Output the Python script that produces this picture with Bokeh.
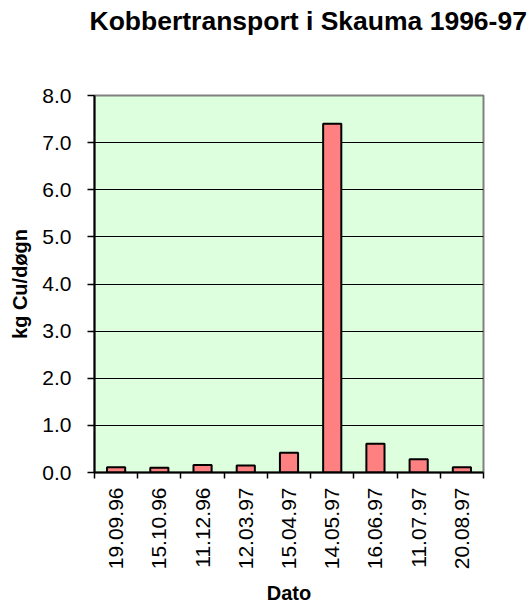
import math
from bokeh.plotting import figure
from bokeh.models import FixedTicker, Range1d, NumeralTickFormatter, ColumnDataSource, Title
from bokeh.embed import file_html
from bokeh.resources import INLINE

# ---- data ----
dates = ["19.09.96", "15.10.96", "11.12.96", "12.03.97", "15.04.97",
         "14.05.97", "16.06.97", "11.07.97", "20.08.97"]
kg_cu = [0.11, 0.10, 0.16, 0.15, 0.42, 7.40, 0.61, 0.28, 0.11]
y_ticks = [0, 1, 2, 3, 4, 5, 6, 7, 8]

title_text = "Kobbertransport i Skauma 1996-97"
x_label = "Dato"
y_label = "kg Cu/døgn"

FONT = "Liberation Sans"

centers = [i + 0.5 for i in range(len(dates))]
bounds = list(range(len(dates) + 1))
src = ColumnDataSource(dict(x=centers, top=kg_cu, date=dates))

p = figure(frame_width=389, frame_height=377,
           x_range=Range1d(0, len(dates)), y_range=Range1d(y_ticks[0], y_ticks[-1]),
           output_backend="svg", toolbar_location=None,
           min_border_left=94, min_border_right=47,
           min_border_top=95, min_border_bottom=134)

p.background_fill_color = "#DDFFDD"
p.border_fill_color = "white"
p.outline_line_color = "#808080"
p.outline_line_width = 2

p.vbar(x="x", top="top", bottom=0, width=0.42, source=src,
       fill_color="#FF8080", line_color="black", line_width=2)

# spacer (nearest to frame) then the real title on top of it
p.add_layout(Title(text=" ", text_font_size="10px", standoff=47), "above")
p.add_layout(Title(text=title_text, text_font=FONT, text_font_size="26.5px",
                   text_font_style="bold", text_color="black",
                   align="left", offset=-5, standoff=0), "above")

# x axis
xa = p.xaxis[0]
xa.ticker = FixedTicker(ticks=centers, minor_ticks=bounds)
xa.major_label_overrides = {c: d for c, d in zip(centers, dates)}
xa.major_label_orientation = math.pi / 2
xa.major_tick_line_color = None
xa.major_tick_out = 0
xa.major_tick_in = 0
xa.minor_tick_out = 6
xa.minor_tick_in = 0
xa.minor_tick_line_color = "black"
xa.minor_tick_line_width = 1.5
xa.major_label_standoff = 9
xa.major_label_text_font = FONT
xa.major_label_text_font_size = "21px"
xa.major_label_text_color = "black"
xa.axis_line_color = "black"
xa.axis_line_width = 2
xa.axis_label = x_label
xa.axis_label_text_font = FONT
xa.axis_label_text_font_size = "20px"
xa.axis_label_text_font_style = "bold"
xa.axis_label_text_color = "black"
xa.axis_label_standoff = 10

# y axis
ya = p.yaxis[0]
ya.ticker = FixedTicker(ticks=y_ticks, minor_ticks=[])
ya.formatter = NumeralTickFormatter(format="0.0")
ya.major_tick_out = 7
ya.major_tick_in = 0
ya.major_tick_line_color = "black"
ya.major_tick_line_width = 1.5
ya.minor_tick_line_color = None
ya.major_label_standoff = 16
ya.major_label_text_font = FONT
ya.major_label_text_font_size = "21px"
ya.major_label_text_color = "black"
ya.axis_line_color = "black"
ya.axis_line_width = 2
ya.axis_label = y_label
ya.axis_label_text_font = FONT
ya.axis_label_text_font_size = "20px"
ya.axis_label_text_font_style = "bold"
ya.axis_label_text_color = "black"
ya.axis_label_standoff = 8

p.xgrid.visible = False
p.ygrid.ticker = FixedTicker(ticks=y_ticks, minor_ticks=[])
p.ygrid.grid_line_color = "black"
p.ygrid.grid_line_width = 1

open("out.html", "w").write(file_html(p, INLINE))
